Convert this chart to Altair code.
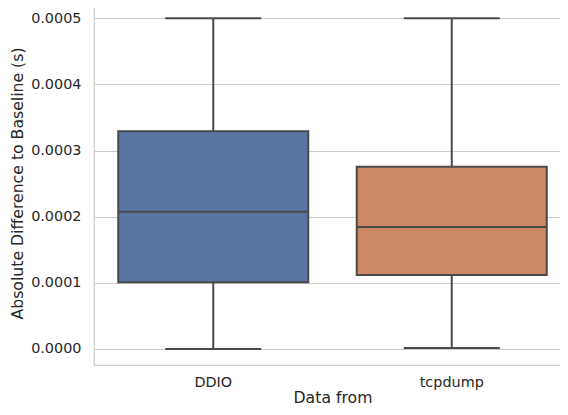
import altair as alt
import pandas as pd

categories = ["DDIO", "tcpdump"]
whisker_low = [0.0, 0.0000015]
q1 = [0.0001008, 0.0001118]
median = [0.0002074, 0.0001843]
q3 = [0.0003293, 0.0002754]
whisker_high = [0.0005, 0.0005]
colors = ["#5975a4", "#cc8963"]
y_ticks = [0.0, 0.0001, 0.0002, 0.0003, 0.0004, 0.0005]

df = pd.DataFrame({
    "cat": categories,
    "lo": whisker_low,
    "q1": q1,
    "med": median,
    "q3": q3,
    "hi": whisker_high,
})

FONT = "DejaVu Sans"
LINE = "#4a4a4a"
LW = 2

x = alt.X("cat:N", title="Data from", sort=categories,
          scale=alt.Scale(paddingInner=0, paddingOuter=0),
          axis=alt.Axis(labelAngle=0, ticks=False, domain=False, grid=False,
                        labelPadding=10, titlePadding=2))
yscale = alt.Scale(domain=[-0.0000242, 0.000526], nice=False, zero=False)
yaxis = alt.Axis(values=y_ticks, format=".4f", ticks=False, domain=False,
                 labelPadding=13, titlePadding=5, gridColor="#cccccc", gridWidth=1)

base = alt.Chart(df)

rule = base.mark_rule(color=LINE, strokeWidth=LW).encode(
    x=x,
    y=alt.Y("lo:Q", scale=yscale, axis=yaxis, title="Absolute Difference to Baseline (s)"),
    y2="hi:Q",
)
box = base.mark_bar(size=190, stroke=LINE, strokeWidth=LW, opacity=1).encode(
    x=x,
    y=alt.Y("q1:Q", scale=yscale),
    y2="q3:Q",
    color=alt.Color("cat:N", scale=alt.Scale(domain=categories, range=colors), legend=None),
)
med = base.mark_tick(size=190, thickness=LW, color=LINE, opacity=1).encode(
    x=x, y=alt.Y("med:Q", scale=yscale))
cap_lo = base.mark_tick(size=96, thickness=LW, color=LINE, opacity=1).encode(
    x=x, y=alt.Y("lo:Q", scale=yscale))
cap_hi = base.mark_tick(size=96, thickness=LW, color=LINE, opacity=1).encode(
    x=x, y=alt.Y("hi:Q", scale=yscale))

chart = alt.layer(rule, box, med, cap_lo, cap_hi).properties(
    width=477, height=364,
    autosize=alt.AutoSizeParams(type="none"),
    padding={"left": 86, "top": -7, "right": -11, "bottom": 42},
).configure_view(
    stroke="#cccccc", strokeWidth=1.25
).configure_axis(
    labelFont=FONT, titleFont=FONT, labelFontSize=14.4, titleFontSize=15.7,
    labelColor="#262626", titleColor="#262626", titleFontWeight="normal",
)

chart.save("out.html", embed_options={"renderer": "svg", "actions": False})
